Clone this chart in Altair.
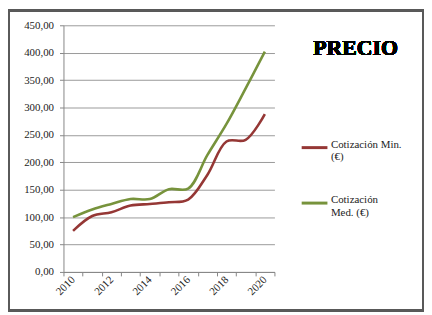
import altair as alt
import pandas as pd

years = [2010, 2011, 2012, 2013, 2014, 2015, 2016, 2017, 2018, 2019, 2020]
cot_min = [75, 102, 109, 121, 124, 127, 132, 177, 238, 241, 288]
cot_med = [100, 114, 124, 133, 133, 151, 152, 213, 270, 335, 402]
series_names = ["Cotización Min. (€)", "Cotización Med. (€)"]
series_colors = ["#953735", "#77933C"]
y_ticks = [0, 50, 100, 150, 200, 250, 300, 350, 400, 450]
x_ticks = [2009.5, 2010, 2010.5, 2011.5, 2012, 2012.5, 2013.5, 2014, 2014.5,
           2015.5, 2016, 2016.5, 2017.5, 2018, 2018.5, 2019.5, 2020, 2020.5]
title_text = "PRECIO"

df = pd.DataFrame({
    "Año": years * 2,
    "Valor": cot_min + cot_med,
    "Serie": [series_names[0]] * len(years) + [series_names[1]] * len(years),
})

W, H = 213, 249
PL, PT, PR, PB = 56, 16, 151, 40
FONT = "Liberation Serif"

lines = alt.Chart(df).mark_line(interpolate="catmull-rom", strokeWidth=2.6).encode(
    x=alt.X("Año:Q",
            scale=alt.Scale(domain=[2009.5, 2020.5], nice=False, zero=False),
            axis=alt.Axis(
                title=None, values=x_ticks,
                labelExpr="datum.value % 2 == 0 ? format(datum.value, 'd') : ''",
                tickOpacity={"condition": {"test": "datum.value % 1 == 0", "value": 0}, "value": 1},
                labelAngle=-45, labelAlign="right", labelBaseline="middle",
                labelPadding=2, labelOverlap=False, labelFlush=False,
                tickSize=4, tickColor="#868686", domainColor="#868686",
                labelFontSize=11, labelColor="#222222", grid=False)),
    y=alt.Y("Valor:Q",
            scale=alt.Scale(domain=[0, 450], nice=False),
            axis=alt.Axis(
                title=None, values=y_ticks,
                labelExpr="replace(format(datum.value, '.2f'), '.', ',')",
                tickSize=4, tickColor="#868686", domainColor="#868686",
                gridColor="#9a9a9a", gridWidth=1, labelPadding=6,
                labelFontSize=11, labelColor="#222222")),
    color=alt.Color("Serie:N",
                    scale=alt.Scale(domain=series_names, range=series_colors),
                    legend=alt.Legend(
                        title=None, orient="none", legendX=239, legendY=109,
                        symbolType="stroke", symbolSize=676, symbolStrokeWidth=3,
                        labelFontSize=11, labelColor="#222222",
                        labelBaseline="alphabetic", labelOffset=2,
                        labelExpr="datum.label == 'Cotización Min. (€)' ? ['Cotización Min.', '(€)'] : ['Cotización', 'Med. (€)']",
                        rowPadding=26, labelLimit=200)),
)

title = alt.Chart(df).mark_text(fontSize=22, fontWeight="bold",
                                color="#000000", align="center", baseline="middle").encode(
    x=alt.value(295), y=alt.value(23), text=alt.value(title_text))

border = alt.Chart(df).mark_rect(fill=None, stroke="#5a5a5a", strokeWidth=1.5).encode(
    x=alt.value(-PL + 1), y=alt.value(-PT + 1),
    x2=alt.value(W + PR - 1), y2=alt.value(H + PB - 1))

chart = alt.layer(lines, title, border).properties(
    width=W, height=H,
    autosize=alt.AutoSizeParams(type="none"),
    padding={"left": PL, "top": PT, "right": PR, "bottom": PB},
).configure(background="white", font=FONT).configure_view(stroke=None)

chart.save("out.html", embed_options={"renderer": "svg", "actions": False})
